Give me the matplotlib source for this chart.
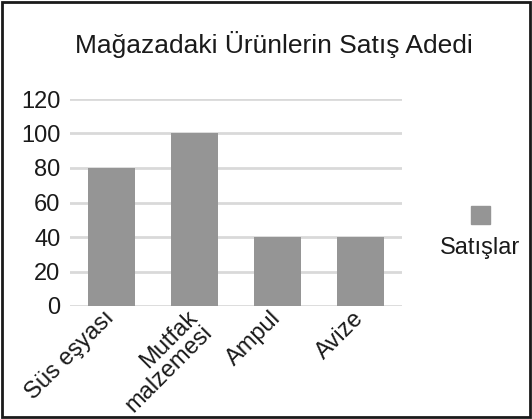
import matplotlib
matplotlib.use('Agg')
import matplotlib.pyplot as plt
from matplotlib.patches import Rectangle
from matplotlib.transforms import ScaledTranslation

plt.rcParams['font.family'] = ['Liberation Sans', 'DejaVu Sans']

kategoriler = ['Süs eşyası', 'Mutfak\nmalzemesi', 'Ampul', 'Avize']
satislar = [80, 100, 40, 40]
y_ticks = [0, 20, 40, 60, 80, 100, 120]
baslik = 'Mağazadaki Ürünlerin Satış Adedi'
seri_adi = 'Satışlar'

BAR_COLOR = '#959595'
GRID_COLOR = '#d9d9d9'
TXT = '#1a1a1a'

fig = plt.figure(figsize=(5.32, 4.19), dpi=100)
ax = fig.add_axes([70/532, 1 - 306/419, 332/532, 207/419])

x = range(len(kategoriler))
ax.bar(x, satislar, width=0.56, color=BAR_COLOR, zorder=3, label=seri_adi)

ax.set_xlim(-0.5, len(kategoriler) - 0.5)
ax.set_ylim(0, 120)
ax.set_yticks(y_ticks)
ax.set_yticklabels([str(v) for v in y_ticks], fontsize=17, color=TXT)
ax.set_xticks(list(x))
ax.set_xticklabels(kategoriler, fontsize=17, rotation=45, ha='right',
                   rotation_mode='anchor', color=TXT, linespacing=0.9)
ax.tick_params(axis='y', length=0, pad=7)
ax.tick_params(axis='x', length=0, pad=3)
# nudge rotated labels a bit left/up like the original
shift = ScaledTranslation(-0.08, 0.03, fig.dpi_scale_trans)
for lbl in ax.get_xticklabels():
    lbl.set_transform(lbl.get_transform() + shift)

ax.grid(axis='y', color=GRID_COLOR, linewidth=2, zorder=0)
for s in ax.spines.values():
    s.set_visible(False)

fig.text(274/532, 1 - 45/419, baslik, ha='center', va='center',
         fontsize=19, color=TXT)

# legend: square above label
fig.patches.append(Rectangle((471/532, 1 - 224/419), 19/532, 18/419,
                             transform=fig.transFigure, color=BAR_COLOR))
fig.text(480/532, 1 - 248/419, seri_adi, ha='center', va='center',
         fontsize=17, color=TXT)

# outer border
fig.patches.append(Rectangle((2/532, 2/419), 528/532, 415/419,
                             transform=fig.transFigure, fill=False,
                             edgecolor=TXT, linewidth=2))

plt.savefig('out.png', dpi=100)
